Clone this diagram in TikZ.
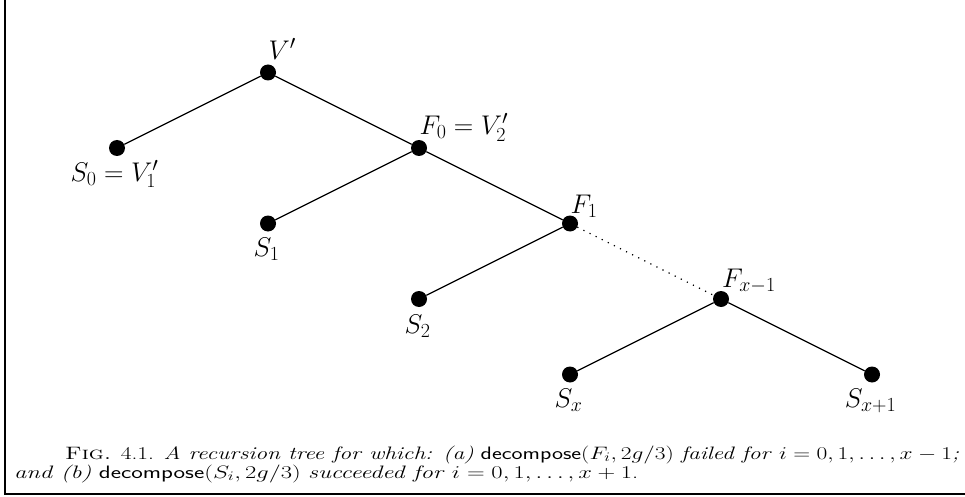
\RequirePackage{fix-cm}
\documentclass[tikz,border=0pt]{standalone}
\usepackage{graphicx}
\usetikzlibrary{calc}
\DeclareMathSizes{27}{27}{20}{15}
\DeclareMathSizes{18}{18}{13}{9}
\newcommand\capfont{\fontsize{18}{19}\selectfont}
\newcommand\capAtext{\textsc{Fig.} 4.1. \textit{A recursion tree for which: (a)} \textsf{decompose}$(F_i,2g/3)$ \textit{failed for} $i=0,1,\ldots,x-1$\textit{;}}
\newcommand\capBtext{\textit{and (b)} \textsf{decompose}$(S_i,2g/3)$ \textit{succeeded for} $i=0,1,\ldots,x+1$.}
\tikzset{
  dot/.style={circle, fill=black, inner sep=0pt, minimum size=16pt},
  edge/.style={line width=1.2pt},
  dotedge/.style={line width=1.2pt, dash pattern=on 1.2pt off 5.6pt},
  lab/.style={inner sep=0pt, font=\fontsize{27}{32}\selectfont},
  caption/.style={inner sep=0pt, anchor=base west},
  frameline/.style={line width=2pt},
}
\begin{document}
\begin{tikzpicture}[x=1pt,y=-1pt]
\useasboundingbox (0,0) rectangle (965,497);
\coordinate (ftop) at (5,0);
\coordinate (fcorner) at (5,494);
\coordinate (fright) at (965,494);
\draw[frameline] (ftop) -- (fcorner) -- (fright);
% nodes
\node[dot] (V) at (268,72.5) {};
\node[dot] (S0) at (117,148) {};
\node[dot] (F0) at (419,148) {};
\node[dot] (S1) at (268,223.5) {};
\node[dot] (F1) at (570,223.5) {};
\node[dot] (S2) at (419,299) {};
\node[dot] (Fx) at (721,299) {};
\node[dot] (Sx) at (570,374.5) {};
\node[dot] (Sx1) at (872,374.5) {};
% edges
\draw[edge] (V) -- (S0);
\draw[edge] (V) -- (F0);
\draw[edge] (F0) -- (S1);
\draw[edge] (F0) -- (F1);
\draw[edge] (F1) -- (S2);
\draw[dotedge] (F1) -- (Fx);
\draw[edge] (Fx) -- (Sx);
\draw[edge] (Fx) -- (Sx1);
% labels
\node[lab, anchor=base west] (lV) at ($(V)+(0.5,-13)$) {$V'$};
\node[lab, anchor=base west] (lF0) at ($(F0)+(0.5,-13.5)$) {$F_0=V_2'$};
\node[lab, anchor=base west] (lF1) at ($(F1)+(0.5,-10.5)$) {$F_1$};
\node[lab, anchor=base west] (lFx) at ($(Fx)+(1,-11.5)$) {$F_{x-1}$};
\node[lab, anchor=base] (lS0) at ($(S0)+(-2.5,33)$) {$S_0=V_1'$};
\node[lab, anchor=base] (lS1) at ($(S1)+(-1.5,33)$) {$S_1$};
\node[lab, anchor=base] (lS2) at ($(S2)+(-1.5,34)$) {$S_2$};
\node[lab, anchor=base] (lSx) at ($(Sx)+(-1.5,33)$) {$S_x$};
\node[lab, anchor=base] (lSx1) at ($(Sx1)+(-1.5,33)$) {$S_{x+1}$};
% caption
\node[caption] (cap1) at (65,459) {\resizebox{894pt}{\height}{\capfont\capAtext}};
\node[caption] (cap2) at (14,478) {\resizebox{624pt}{\height}{\capfont\capBtext}};
\end{tikzpicture}
\end{document}
